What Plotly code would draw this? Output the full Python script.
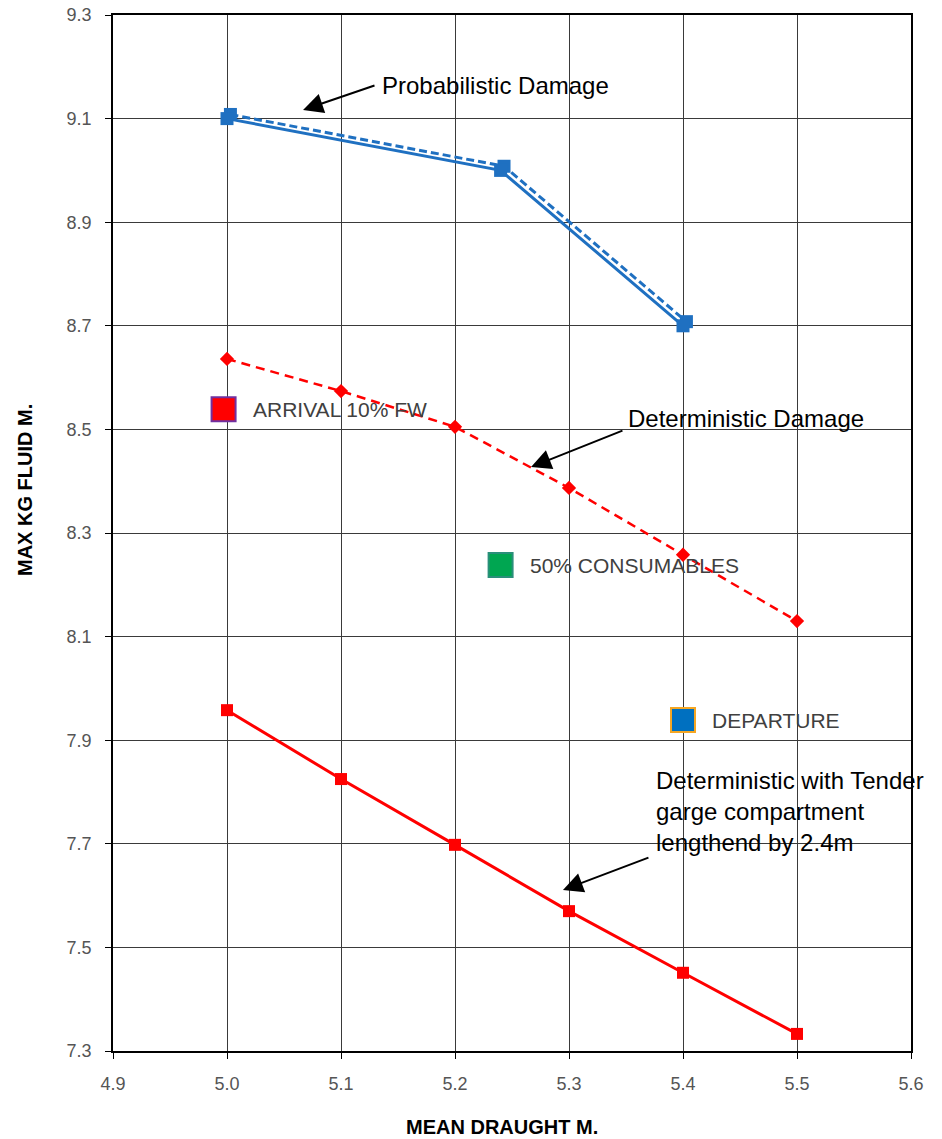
import plotly.graph_objects as go

# ---- data ----
draught = [5.0, 5.1, 5.2, 5.3, 5.4, 5.5]
det_damage = [8.636, 8.574, 8.505, 8.387, 8.258, 8.130]
det_tender = [7.958, 7.825, 7.698, 7.570, 7.451, 7.333]

prob_x = [5.0, 5.24, 5.40]
prob_solid = [9.10, 9.00, 8.70]
prob_dash_x = [5.003, 5.243, 5.403]
prob_dash = [9.108, 9.008, 8.708]

cond_names = ["ARRIVAL 10% FW", "50% CONSUMABLES", "DEPARTURE"]
cond_x = [4.997, 5.24, 5.40]
cond_y = [8.539, 8.238, 7.939]
cond_fill = ["#ff0000", "#00a651", "#0070c0"]
cond_line = ["#7030a0", "#2a8f7a", "#f5a623"]

x_ticks = [4.9, 5.0, 5.1, 5.2, 5.3, 5.4, 5.5, 5.6]
y_ticks = [7.3, 7.5, 7.7, 7.9, 8.1, 8.3, 8.5, 8.7, 8.9, 9.1, 9.3]

BLUE = "#1f70c1"
RED = "#ff0000"
FONT = "Liberation Sans, Arial, sans-serif"

fig = go.Figure()

fig.add_trace(go.Scatter(x=prob_dash_x, y=prob_dash, mode="lines+markers",
                         line=dict(color=BLUE, width=3, dash="8px,4px"),
                         marker=dict(symbol="square", size=13, color=BLUE),
                         showlegend=False))
fig.add_trace(go.Scatter(x=prob_x, y=prob_solid, mode="lines+markers",
                         line=dict(color=BLUE, width=3),
                         marker=dict(symbol="square", size=13, color=BLUE),
                         showlegend=False))
fig.add_trace(go.Scatter(x=draught, y=det_damage, mode="lines+markers",
                         line=dict(color=RED, width=2.5, dash="9px,6px"),
                         marker=dict(symbol="diamond", size=11, color=RED),
                         showlegend=False))
fig.add_trace(go.Scatter(x=draught, y=det_tender, mode="lines+markers",
                         line=dict(color=RED, width=3),
                         marker=dict(symbol="square", size=12, color=RED),
                         showlegend=False))

for name, cx, cy, fc, lc in zip(cond_names, cond_x, cond_y, cond_fill, cond_line):
    fig.add_trace(go.Scatter(x=[cx], y=[cy], mode="markers",
                             marker=dict(symbol="square", size=24, color=fc,
                                         line=dict(color=lc, width=2)),
                             showlegend=False))
    fig.add_annotation(x=cx, y=cy, xref="x", yref="y", text=name, showarrow=False,
                       xanchor="left", yanchor="middle", xshift=27,
                       font=dict(family=FONT, size=21, color="#404040"))

# callout texts
callouts = [
    ("Probabilistic Damage", 5.1342, 9.163),
    ("Deterministic Damage", 5.350, 8.522),
    ("Deterministic with Tender<br>garge compartment<br>lengthend by 2.4m", 5.3746, 7.763),
]
for txt, tx, ty in callouts:
    fig.add_annotation(x=tx, y=ty, xref="x", yref="y", text=txt, showarrow=False,
                       xanchor="left", yanchor="middle", align="left",
                       font=dict(family=FONT, size=24, color="#000000"))

# arrows (head -> tail)
arrows = [
    (5.0667, 9.1166, 5.1307, 9.165),
    (5.2667, 8.4274, 5.3482, 8.4988),
    (5.2947, 7.6108, 5.3710, 7.6745),
]
for hx, hy, tx, ty in arrows:
    fig.add_annotation(x=hx, y=hy, ax=tx, ay=ty, xref="x", yref="y", axref="x", ayref="y",
                       text="", showarrow=True, arrowhead=2, arrowsize=2.0,
                       arrowwidth=2, arrowcolor="#000000")

# axis titles
fig.add_annotation(x=-0.1103, y=0.5415, xref="paper", yref="paper",
                   text="<b>MAX KG FLUID M.</b>", textangle=-90, showarrow=False,
                   xanchor="center", yanchor="middle",
                   font=dict(family=FONT, size=20, color="#000000"))
fig.add_annotation(x=0.4875, y=-0.0734, xref="paper", yref="paper",
                   text="<b>MEAN DRAUGHT M.</b>", showarrow=False,
                   xanchor="center", yanchor="middle",
                   font=dict(family=FONT, size=20, color="#000000"))

axis_common = dict(showgrid=True, gridcolor="#3a3a3a", gridwidth=1,
                   showline=True, linecolor="#000000", linewidth=1.5, mirror=True,
                   ticks="outside", ticklen=6, tickcolor="#000000", tickwidth=1,
                   zeroline=False, automargin=False,
                   tickfont=dict(family=FONT, size=18, color="#555555"))

fig.update_layout(
    width=942, height=1139,
    margin=dict(l=113, r=31, t=15, b=88),
    paper_bgcolor="white", plot_bgcolor="white",
    xaxis=dict(range=[4.9, 5.6], tickvals=x_ticks, tickformat=".1f",
               ticklabelstandoff=10, **axis_common),
    yaxis=dict(range=[7.3, 9.3], tickvals=y_ticks, tickformat=".1f",
               ticklabelstandoff=10, **axis_common),
)

fig.write_html("out.html", config={"displayModeBar": False},
               post_script="document.body.style.margin='0';document.body.style.overflow='hidden';")
